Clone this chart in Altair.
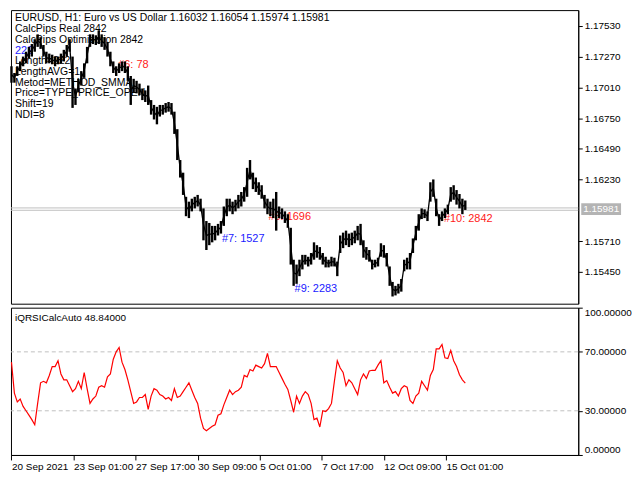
import altair as alt
import pandas as pd

W = 570
H_PRICE = 295
H_IND = 148

# every third H1 bar, counted from 20 Sep 2021 09:00
bars = list(range(0, 471, 3))

high = [1.17189, 1.17132, 1.17189, 1.17230, 1.17271, 1.17312, 1.17353, 1.17377, 1.17418, 1.17459,
        1.17435, 1.17369, 1.17312, 1.17296, 1.17287, 1.17271, 1.17271, 1.17296, 1.17328, 1.17369,
        1.17418, 1.17271, 1.17001, 1.17083, 1.17148, 1.17214, 1.17353, 1.17459, 1.17459, 1.17451,
        1.17492, 1.17459, 1.17435, 1.17394, 1.17312, 1.17230, 1.17189, 1.17214, 1.17230, 1.17230,
        1.17189, 1.17107, 1.17083, 1.17066, 1.17042, 1.17001, 1.16985, 1.17026, 1.16903, 1.16862,
        1.16846, 1.16862, 1.16862, 1.16878, 1.16887, 1.16878, 1.16805, 1.16657, 1.16396, 1.16289,
        1.16085, 1.16044, 1.16069, 1.16085, 1.16101, 1.16069, 1.15987, 1.15880, 1.15864, 1.15839,
        1.15839, 1.15856, 1.15880, 1.16003, 1.16069, 1.16069, 1.16044, 1.16060, 1.16101, 1.16126,
        1.16167, 1.16330, 1.16396, 1.16289, 1.16248, 1.16208, 1.16183, 1.16101, 1.16069, 1.16044,
        1.16069, 1.16126, 1.16003, 1.15987, 1.15962, 1.15938, 1.15823, 1.15553, 1.15512, 1.15553,
        1.15594, 1.15594, 1.15578, 1.15610, 1.15700, 1.15676, 1.15660, 1.15610, 1.15578, 1.15553,
        1.15578, 1.15570, 1.15537, 1.15758, 1.15782, 1.15799, 1.15774, 1.15782, 1.15799, 1.15839,
        1.15856, 1.15717, 1.15660, 1.15635, 1.15553, 1.15553, 1.15570, 1.15692, 1.15676, 1.15610,
        1.15496, 1.15365, 1.15332, 1.15349, 1.15390, 1.15553, 1.15570, 1.15610, 1.15733, 1.15839,
        1.15938, 1.15987, 1.15979, 1.15962, 1.16208, 1.16232, 1.16069, 1.15938, 1.15962, 1.15987,
        1.16019, 1.16167, 1.16183, 1.16142, 1.16109, 1.16069, 1.16054]

low = [1.17050, 1.17050, 1.17107, 1.17148, 1.17189, 1.17214, 1.17255, 1.17271, 1.17312, 1.17353,
       1.17336, 1.17271, 1.17214, 1.17214, 1.17206, 1.17189, 1.17206, 1.17214, 1.17230, 1.17271,
       1.17312, 1.16837, 1.16862, 1.16968, 1.17026, 1.17091, 1.17214, 1.17353, 1.17377, 1.17369,
       1.17377, 1.17353, 1.17328, 1.17271, 1.17189, 1.17132, 1.17107, 1.17132, 1.17148, 1.17132,
       1.17066, 1.16862, 1.16968, 1.16960, 1.16944, 1.16903, 1.16887, 1.16862, 1.16780, 1.16739,
       1.16698, 1.16764, 1.16780, 1.16797, 1.16805, 1.16780, 1.16617, 1.16396, 1.16248, 1.16101,
       1.15921, 1.15905, 1.15962, 1.15987, 1.16003, 1.15962, 1.15717, 1.15635, 1.15676, 1.15700,
       1.15717, 1.15758, 1.15774, 1.15839, 1.15921, 1.15962, 1.15938, 1.15962, 1.15987, 1.16003,
       1.16044, 1.16085, 1.16232, 1.16150, 1.16126, 1.16101, 1.16069, 1.15987, 1.15938, 1.15921,
       1.15905, 1.15799, 1.15905, 1.15897, 1.15864, 1.15823, 1.15512, 1.15332, 1.15349, 1.15414,
       1.15471, 1.15512, 1.15496, 1.15512, 1.15553, 1.15570, 1.15553, 1.15512, 1.15488, 1.15488,
       1.15496, 1.15496, 1.15414, 1.15610, 1.15651, 1.15676, 1.15660, 1.15676, 1.15692, 1.15717,
       1.15676, 1.15570, 1.15553, 1.15537, 1.15471, 1.15488, 1.15496, 1.15578, 1.15570, 1.15496,
       1.15332, 1.15242, 1.15251, 1.15267, 1.15283, 1.15455, 1.15471, 1.15471, 1.15610, 1.15717,
       1.15799, 1.15897, 1.15905, 1.15880, 1.16044, 1.16085, 1.15921, 1.15839, 1.15880, 1.15905,
       1.15938, 1.16044, 1.16060, 1.16019, 1.15987, 1.15938, 1.15974]

qrsi = [63, 42, 36, 38, 33, 30, 27, 24, 20.5, 35,
        49, 50, 49, 54, 60, 60, 64, 55, 51, 51,
        47, 43, 45, 50, 45, 56, 45, 35, 38, 40,
        46, 47, 46, 53, 55, 65, 70, 73, 63, 58,
        51, 43, 35, 36, 39, 39, 41, 31, 40, 45,
        44, 41, 40, 38, 39, 37, 45, 39, 40, 43,
        46, 49, 44, 39, 35, 25, 18, 16.5, 18, 19.5,
        20.5, 27, 28, 34, 39, 44, 41, 43, 44, 46,
        54, 53, 58, 57, 61, 60, 59, 62, 69, 60,
        60, 60, 56, 52, 48, 44.5, 37, 29, 40, 35,
        40, 43, 41, 35, 24, 25, 19, 30, 29.5, 31.5,
        35, 50, 64, 59, 56, 47, 51, 49, 45, 41,
        51, 55, 52, 57, 57.5, 57.5, 61, 64, 49, 50.5,
        46, 42, 43, 40, 45, 47, 46, 37, 35, 40,
        42, 50, 47, 44, 54, 58, 72, 72, 75, 66,
        65.5, 71, 64, 60, 54.5, 51, 48.84]

tick_bars = [0, 64, 128, 192, 256, 320, 384, 448]
tick_labels = ["20 Sep 2021", "23 Sep 01:00", "27 Sep 17:00", "30 Sep 09:00",
               "5 Oct 01:00", "7 Oct 17:00", "12 Oct 09:00", "15 Oct 01:00"]
price_ticks = [1.17530, 1.17270, 1.17010, 1.16750, 1.16490, 1.16230, 1.15710, 1.15450]

info_head = ["EURUSD, H1:  Euro vs US Dollar  1.16032 1.16054 1.15974 1.15981",
             "CalcPips Real 2842", "CalcPips Optimization 2842"]
info_length = "222"
info_params = ["Length=222", "LengthAVG=1", "Metod=METHOD_SMMA",
               "Price=TYPE_PRICE_OPEN", "Shift=19", "NDI=8"]

note_text = ["#6: 78", "#7: 1527", "#8: 1696", "#9: 2283", "#10: 2842"]
note_bar = [110, 217, 265, 292, 446]
note_price = [1.17197, 1.15725, 1.15913, 1.15308, 1.15897]
note_color = ["#FF1A1A", "#1A1AFF", "#FF1A1A", "#1A1AFF", "#FF1A1A"]

bid_ask = [1.15991, 1.15971]
last_price = 1.15981
levels = [30, 70]

FONT = "Liberation Sans"
LINE_H = 10.8

price_df = pd.DataFrame({"bar": bars, "high": high, "low": low})
ind_df = pd.DataFrame({"bar": bars, "q": qrsi})
notes_df = pd.DataFrame({"bar": note_bar, "price": note_price,
                         "label": note_text, "color": note_color})
one_row = pd.DataFrame({"a": [0]})

x_scale = alt.Scale(domain=[-0.5, 584.5], nice=False, zero=False)
p_scale = alt.Scale(domain=[1.15181, 1.17664], nice=False, zero=False)
q_scale = alt.Scale(domain=[0, 100], nice=False)

price_axis = alt.Axis(orient="right", values=price_ticks, format=".5f",
                      title=None, tickSize=4, labelPadding=2)


def text_block(lines, row, color="black", size=10.5):
    return alt.Chart(one_row).mark_text(
        align="left", baseline="top", lineHeight=LINE_H, fontSize=size, font=FONT, color=color
    ).encode(x=alt.value(4), y=alt.value(3 + row * LINE_H), text=alt.value(lines))


head = text_block(info_head, 0)
blue_len = text_block(info_length, 3, color="#1A1AFF", size=11)
params = text_block(info_params, 4)

notes = alt.Chart(notes_df).mark_text(
    align="left", baseline="middle", fontSize=11, font=FONT
).encode(
    x=alt.X("bar:Q", scale=x_scale, axis=None),
    y=alt.Y("price:Q", scale=p_scale, axis=price_axis),
    text="label:N",
    color=alt.Color("color:N", scale=None),
)

bidask = alt.Chart(pd.DataFrame({"p": bid_ask})).mark_rule(
    color="#C0C0C0", strokeWidth=1
).encode(y=alt.Y("p:Q", scale=p_scale))

ohlc = alt.Chart(price_df).mark_rule(color="black", strokeWidth=2.4).encode(
    x=alt.X("bar:Q", scale=x_scale, axis=None),
    y=alt.Y("low:Q", scale=p_scale),
    y2="high:Q",
)

mid = alt.Chart(price_df).transform_calculate(
    mid="(datum.high + datum.low) / 2"
).mark_line(color="black", strokeWidth=1.3).encode(
    x=alt.X("bar:Q", scale=x_scale, axis=None),
    y=alt.Y("mid:Q", scale=p_scale),
)

last_df = pd.DataFrame({"p": [last_price], "t": [f"{last_price:.5f}"]})
last_box = alt.Chart(last_df).mark_tick(
    orient="horizontal", thickness=12, size=40, color="#B4B4B4", opacity=1, clip=False
).encode(x=alt.value(W + 23), y=alt.Y("p:Q", scale=p_scale))
last_txt = alt.Chart(last_df).mark_text(
    align="left", baseline="middle", fontSize=10, font=FONT, color="white", clip=False
).encode(x=alt.value(W + 5), y=alt.Y("p:Q", scale=p_scale), text="t:N")

price_panel = alt.layer(
    head, blue_len, params, notes, bidask, ohlc, mid, last_box, last_txt
).properties(width=W, height=H_PRICE)

label_expr = " : ".join(
    f"datum.value == {b} ? '{t}'" for b, t in zip(tick_bars, tick_labels)
) + " : ''"

ind_title = alt.Chart(one_row).mark_text(
    align="left", baseline="top", fontSize=10, font=FONT, color="black"
).encode(x=alt.value(4), y=alt.value(5), text=alt.value("iQRSICalcAuto 48.84000"))

level_rules = alt.Chart(pd.DataFrame({"lv": levels})).mark_rule(
    color="#C0C0C0", strokeDash=[4, 3], strokeWidth=1
).encode(y=alt.Y("lv:Q", scale=q_scale))

qrsi_line = alt.Chart(ind_df).mark_line(color="#FF0000", strokeWidth=1.2).encode(
    x=alt.X("bar:Q", scale=x_scale,
            axis=alt.Axis(values=tick_bars, labelExpr=label_expr, title=None,
                          tickSize=5, labelAlign="left", labelPadding=2,
                          labelOverlap=False, labelFlush=False)),
    y=alt.Y("q:Q", scale=q_scale,
            axis=alt.Axis(orient="right", values=[0, 30, 70, 100], format=".5f",
                          title=None, tickSize=4, labelPadding=2, labelFlush=True)),
)

ind_panel = alt.layer(ind_title, level_rules, qrsi_line).properties(width=W, height=H_IND)

chart = alt.vconcat(price_panel, ind_panel, spacing=2).properties(
    padding=0, background="white"
).configure_view(
    stroke="black", strokeWidth=1
).configure_axis(
    labelFont=FONT, labelFontSize=10, labelColor="black",
    domainColor="black", tickColor="black", grid=False
)

chart.save("out.html", embed_options={"renderer": "svg", "actions": False})
